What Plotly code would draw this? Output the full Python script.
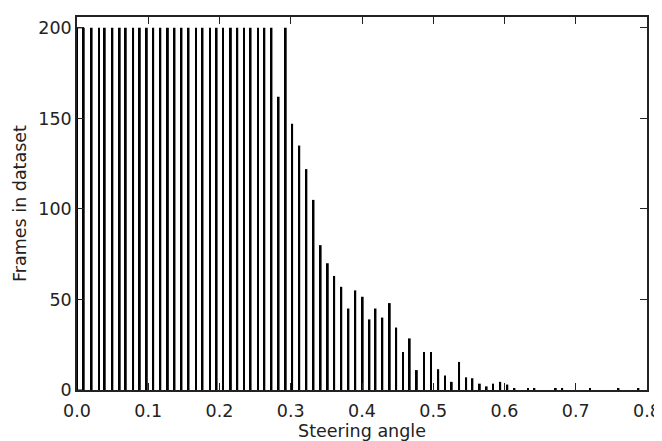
import plotly.graph_objects as go

# steering angle histogram - bins
angles = [0.0, 0.0094, 0.0206, 0.031, 0.039, 0.0497, 0.060, 0.0685, 0.0788, 0.0882,
          0.098, 0.107, 0.117, 0.1276, 0.1369, 0.1467, 0.1566, 0.167, 0.1762, 0.1866,
          0.196, 0.205, 0.216, 0.225, 0.2345, 0.2437, 0.254, 0.263, 0.273, 0.283,
          0.293, 0.302, 0.312, 0.322, 0.332, 0.342, 0.352, 0.361, 0.371, 0.381,
          0.3906, 0.401, 0.4105, 0.419, 0.4286, 0.439, 0.448, 0.4575, 0.467, 0.477,
          0.487, 0.4968, 0.507, 0.5166, 0.526, 0.5363, 0.5462, 0.555, 0.5654, 0.575,
          0.584, 0.594, 0.604, 0.614, 0.633, 0.642, 0.672, 0.681, 0.720, 0.760, 0.788]
frames = [200, 200, 200, 200, 200, 200, 200, 200, 200, 200,
          200, 200, 200, 200, 200, 200, 200, 200, 200, 200,
          200, 200, 200, 200, 200, 200, 200, 200, 200, 162,
          200, 147, 135, 122, 105, 80, 70, 63, 57, 45,
          55, 51.5, 39, 45, 40, 48, 34.5, 21, 28.5, 11,
          21, 21, 11.5, 8, 4.5, 15.5, 7, 6.5, 3.5, 2,
          3.5, 4.5, 3, 1, 1, 0.6, 0.6, 1, 1, 1, 1]

# the first bin is drawn as an open box in the reference
first_box_x = [0.0047]
first_box_y = [200]

font = dict(family="DejaVu Sans, sans-serif", size=17.5, color="#222")

fig = go.Figure()
fig.add_trace(go.Bar(x=angles, y=frames, width=0.0026,
                     marker=dict(color="black", line=dict(width=0))))
fig.add_trace(go.Bar(x=first_box_x, y=first_box_y, width=0.0094,
                     marker=dict(color="rgba(0,0,0,0)", line=dict(color="black", width=1))))

axis_style = dict(showline=True, linecolor="#222", linewidth=1.5, mirror="ticks",
                  ticks="inside", ticklen=7, tickwidth=1, tickcolor="#222",
                  showgrid=False, zeroline=False, tickfont=font)

fig.update_xaxes(range=[0, 0.8], tickvals=[0, 0.1, 0.2, 0.3, 0.4, 0.5, 0.6, 0.7, 0.8],
                 tickformat=".1f", ticklabelstandoff=4, automargin=False,
                 title=dict(text="Steering angle", font=font, standoff=7),
                 **axis_style)
fig.update_yaxes(range=[0, 206], tickvals=[0, 50, 100, 150, 200],
                 title=dict(text="Frames in dataset", font=font, standoff=7),
                 **axis_style)

# page body adds 8px, so the figure is 8px smaller and margins shifted
fig.update_layout(width=654, height=433, showlegend=False, barmode="overlay",
                  plot_bgcolor="white", paper_bgcolor="white",
                  margin=dict(l=69, r=15, t=9, b=51), font=font)

fig.write_html("out.html")
